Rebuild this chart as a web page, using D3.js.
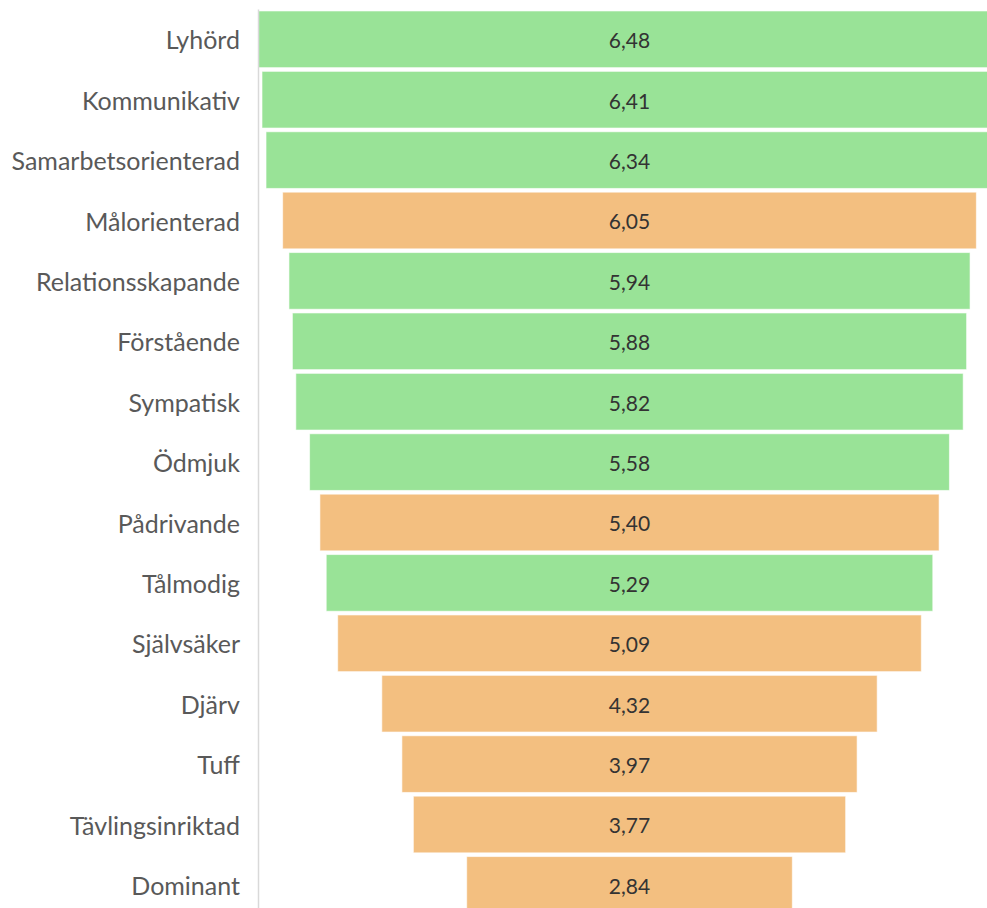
<!DOCTYPE html>
<html>
<head>
<meta charset="utf-8">
<script src="https://cdn.jsdelivr.net/npm/d3@7"></script>
<style>
  body { margin: 0; background: #fff; }
  svg { display: block; }
</style>
</head>
<body>
<svg id="chart" width="987" height="908"></svg>
<script>
// data, top to bottom
var categories = ["Lyhörd", "Kommunikativ", "Samarbetsorienterad", "Målorienterad",
    "Relationsskapande", "Förstående", "Sympatisk", "Ödmjuk", "Pådrivande",
    "Tålmodig", "Självsäker", "Djärv", "Tuff", "Tävlingsinriktad", "Dominant"];
var values = [6.48, 6.41, 6.34, 6.05, 5.94, 5.88, 5.82, 5.58, 5.40, 5.29, 5.09, 4.32, 3.97, 3.77, 2.84];
var groups = ["g", "g", "g", "o", "g", "g", "g", "g", "o", "g", "o", "o", "o", "o", "o"];

var svg = d3.select("#chart"),
    left = 258,
    plotW = 743,
    center = left + plotW / 2;

var color = d3.scaleOrdinal()
    .domain(["g", "o"])
    .range(["#99e397", "#f3bf80"]);

var x = d3.scaleLinear()
    .domain([0, d3.max(values)])
    .range([0, plotW]);

var y = d3.scaleBand()
    .domain(categories)
    .range([9.1, 915.1])
    .paddingInner(0.062)
    .paddingOuter(0.031);

var rows = svg.selectAll(".row")
    .data(categories)
    .enter().append("g")
    .attr("class", "row");

rows.append("rect")
    .attr("x", function(d, i) { return center - x(values[i]) / 2; })
    .attr("y", function(d) { return y(d); })
    .attr("width", function(d, i) { return x(values[i]); })
    .attr("height", y.bandwidth())
    .attr("fill", function(d, i) { return color(groups[i]); })
    .attr("stroke", "rgba(255,255,255,0.6)")
    .attr("stroke-width", 1);

rows.append("text")
    .attr("x", center)
    .attr("y", function(d) { return y(d) + y.bandwidth() / 2 + 1.5; })
    .attr("dy", "0.35em")
    .attr("text-anchor", "middle")
    .style("font-family", "Lato, 'Open Sans', sans-serif")
    .style("font-size", "21px")
    .style("fill", "#333")
    .text(function(d, i) { return values[i].toFixed(2).replace(".", ","); });

// category axis
var axis = svg.append("g")
    .attr("transform", "translate(" + left + ",0)")
    .call(d3.axisLeft(y).tickSize(0).tickPadding(18));

axis.select(".domain")
    .attr("stroke", "#d9d9d9")
    .attr("stroke-width", 1.5);

axis.selectAll("text")
    .attr("dy", "0.4em")
    .style("font-family", "Lato, 'Open Sans', sans-serif")
    .style("font-size", "25px")
    .style("fill", "#595959");
</script>
</body>
</html>
